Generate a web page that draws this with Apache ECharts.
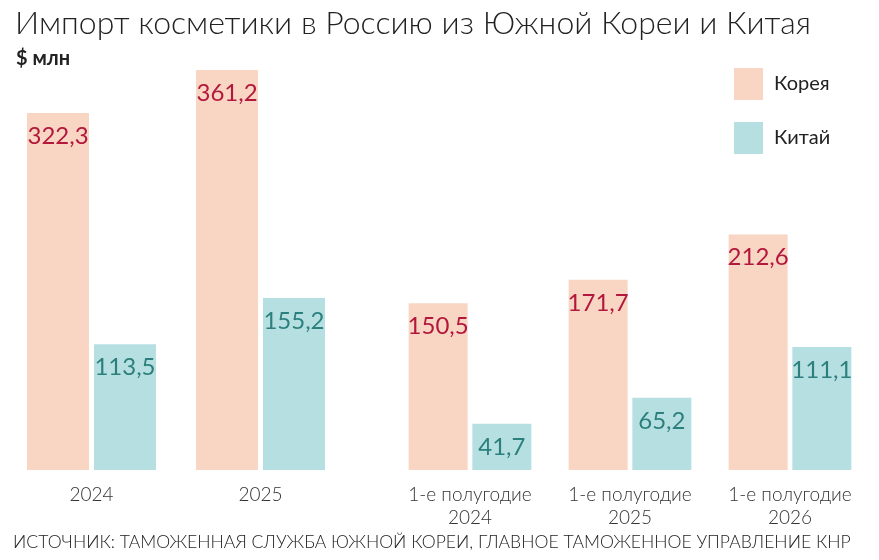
<!DOCTYPE html>
<html>
<head>
<meta charset="utf-8">
<script src="https://cdn.jsdelivr.net/npm/echarts@6/dist/echarts.min.js"></script>
<style>
  html, body { margin: 0; padding: 0; background: #fff; }
  #main { width: 879px; height: 560px; }
</style>
</head>
<body>
<div id="main"></div>
<script>
// annual figures and first-half figures, $ mln
var yearCats = ['2024', '2025'];
var koreaYear = [322.3, 361.2];
var chinaYear = [113.5, 155.2];

var halfCats = ['1-е полугодие\n2024', '1-е полугодие\n2025', '1-е полугодие\n2026'];
var koreaHalf = [150.5, 171.7, 212.6];
var chinaHalf = [41.7, 65.2, 111.1];

var KOREA = '#f8d6c3';
var CHINA = '#b6dfe1';
var FONT = 'Lato, "Open Sans", sans-serif';

var chartDom = document.getElementById('main');
var myChart = echarts.init(chartDom);

function fmt(p) {
  return String(p.value).replace('.', ',');
}

function barLabel(color) {
  return {
    show: true,
    position: 'insideTop',
    distance: 11,
    formatter: fmt,
    color: color,
    fontFamily: FONT,
    fontSize: 24
  };
}

function catAxis(idx, cats) {
  return {
    type: 'category',
    gridIndex: idx,
    data: cats,
    axisLine: { show: false },
    axisTick: { show: false },
    axisLabel: {
      color: '#333',
      fontFamily: FONT,
      fontWeight: 300,
      fontSize: 19,
      lineHeight: 23,
      margin: 13,
      verticalAlign: 'top',
      interval: 0
    }
  };
}

function valAxis(idx) {
  return { type: 'value', gridIndex: idx, min: 0, max: 400, show: false };
}

var option = {
  backgroundColor: '#fff',
  animation: false,
  title: [
    {
      text: 'Импорт косметики в Россию из Южной Кореи и Китая',
      left: 10, top: 3,
      textStyle: { fontFamily: FONT, fontWeight: 300, fontSize: 32, color: '#222' }
    },
    {
      text: '$ млн',
      left: 11, top: 44,
      textStyle: { fontFamily: FONT, fontWeight: 'bold', fontSize: 20, color: '#222' }
    },
    {
      text: 'ИСТОЧНИК: ТАМОЖЕННАЯ СЛУЖБА ЮЖНОЙ КОРЕИ, ГЛАВНОЕ ТАМОЖЕННОЕ УПРАВЛЕНИЕ КНР',
      left: 8, top: 528,
      textStyle: { fontFamily: FONT, fontWeight: 300, fontSize: 17.6, color: '#222' }
    }
  ],
  legend: {
    orient: 'vertical',
    left: 729, top: 63,
    itemWidth: 29, itemHeight: 32, itemGap: 22,
    icon: 'rect',
    data: ['Корея', 'Китай'],
    textStyle: { fontFamily: FONT, fontSize: 20, color: '#222', padding: [0, 0, 0, 6] }
  },
  grid: [
    { left: 7, width: 338, top: 27, bottom: 90 },
    { left: 390, width: 480, top: 27, bottom: 90 }
  ],
  xAxis: [catAxis(0, yearCats), catAxis(1, halfCats)],
  yAxis: [valAxis(0), valAxis(1)],
  series: [
    { name: 'Корея', type: 'bar', xAxisIndex: 0, yAxisIndex: 0, data: koreaYear,
      barWidth: 62, barGap: '8%', itemStyle: { color: KOREA }, label: barLabel('#b3173b') },
    { name: 'Китай', type: 'bar', xAxisIndex: 0, yAxisIndex: 0, data: chinaYear,
      barWidth: 62, barGap: '8%', itemStyle: { color: CHINA }, label: barLabel('#2b7f7c') },
    { name: 'Корея', type: 'bar', xAxisIndex: 1, yAxisIndex: 1, data: koreaHalf,
      barWidth: 59, barGap: '8%', itemStyle: { color: KOREA }, label: barLabel('#b3173b') },
    { name: 'Китай', type: 'bar', xAxisIndex: 1, yAxisIndex: 1, data: chinaHalf,
      barWidth: 59, barGap: '8%', itemStyle: { color: CHINA }, label: barLabel('#2b7f7c') }
  ]
};

myChart.setOption(option);
</script>
</body>
</html>
